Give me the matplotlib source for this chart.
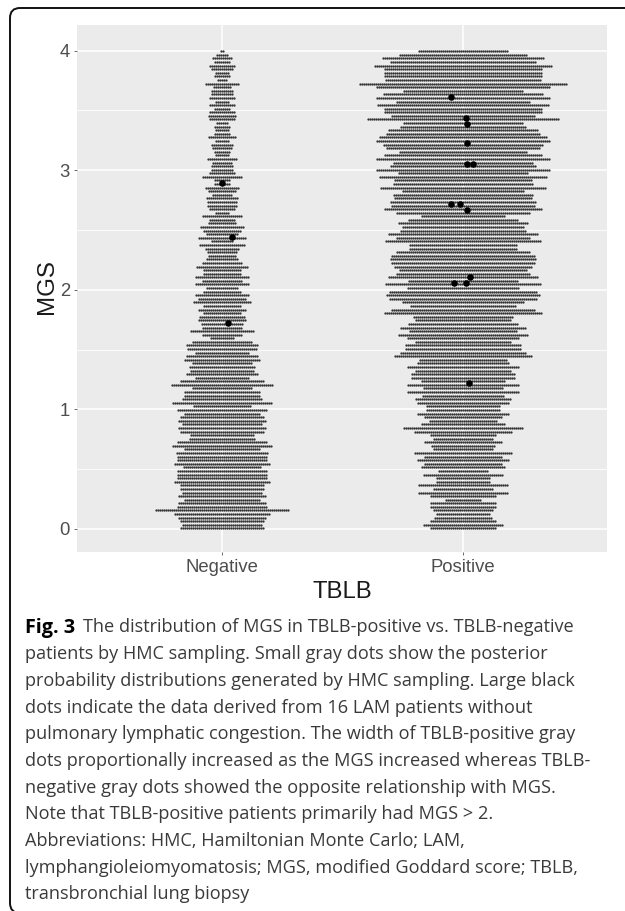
import numpy as np
import matplotlib
matplotlib.use("Agg")
import matplotlib.pyplot as plt
from matplotlib.patches import FancyBboxPatch

W, H = 625, 911
categories = ["Negative", "Positive"]
top_bin = 3.995
bin_width = 0.03

# dots per MGS bin, top bin first
neg_counts = [2,6,10,8,13,11,7,8,5,17,9,11,11,13,7,13,8,13,14,13,6,8,7,8,14,7,11,10,8,7,15,10,11,11,13,20,8,8,17,14,
              10,16,15,15,13,7,20,13,14,22,19,16,24,11,23,17,15,14,16,20,26,19,19,27,20,27,16,19,27,24,29,19,24,19,23,24,
              21,20,32,20,12,30,36,35,27,36,38,30,33,32,36,27,42,51,30,38,38,40,50,29,45,38,42,44,40,44,42,32,33,45,50,38,
              46,45,45,48,39,45,45,45,48,42,42,40,44,38,44,45,67,48,44,42,40,42]
pos_counts = [45,64,81,73,89,79,79,79,78,104,87,60,80,87,67,86,79,79,72,96,60,63,75,77,84,87,80,77,64,79,87,70,73,87,65,
              84,69,70,83,61,70,69,73,72,79,67,42,55,65,61,63,75,67,78,54,54,67,72,73,72,69,64,67,75,55,78,56,74,77,74,61,53,72,79,
              50,48,55,63,54,65,56,48,58,58,63,69,44,46,56,48,52,52,42,56,40,56,41,48,46,37,37,46,39,34,42,60,49,33,30,39,32,30,49,39,
              46,39,42,25,40,27,27,45,30,45,33,18,33,33,30,27,29,33,40,33]

# patients without pulmonary lymphatic congestion
lam_x = [1.001, 1.044, 1.028, 1.953, 2.012, 2.019, 2.019, 2.019, 2.043, 1.953, 1.990, 2.019, 2.030, 1.964, 2.015, 2.028]
lam_y = [2.89, 2.446, 1.72, 3.61, 3.44, 3.39, 3.23, 3.05, 3.05, 2.72, 2.72, 2.67, 2.11, 2.06, 2.06, 1.22]

caption = [
    "The distribution of MGS in TBLB-positive vs. TBLB-negative",
    "patients by HMC sampling. Small gray dots show the posterior",
    "probability distributions generated by HMC sampling. Large black",
    "dots indicate the data derived from 16 LAM patients without",
    "pulmonary lymphatic congestion. The width of TBLB-positive gray",
    "dots proportionally increased as the MGS increased whereas TBLB-",
    "negative gray dots showed the opposite relationship with MGS.",
    "Note that TBLB-positive patients primarily had MGS > 2.",
    "Abbreviations: HMC, Hamiltonian Monte Carlo; LAM,",
    "lymphangioleiomyomatosis; MGS, modified Goddard score; TBLB,",
    "transbronchial lung biopsy",
]

fig = plt.figure(figsize=(W / 100, H / 100), dpi=100, facecolor="white")
ax = fig.add_axes([77 / W, 1 - 551.7 / H, 530.3 / W, 526.7 / H])
ax.set_facecolor("#EBEBEB")
ax.set_xlim(0.4, 2.6)
ax.set_ylim(-0.19, 4.215)
for s in ax.spines.values():
    s.set_visible(False)

sans = ["Liberation Sans", "DejaVu Sans"]
ax.set_yticks([0, 1, 2, 3, 4])
ax.set_yticks([0.5, 1.5, 2.5, 3.5], minor=True)
ax.set_xticks([1, 2])
ax.set_xticklabels(categories)
ax.grid(True, which="major", color="white", linewidth=1.1)
ax.grid(True, which="minor", axis="y", color="white", linewidth=0.6)
ax.set_axisbelow(True)
ax.tick_params(which="major", length=2.5, width=0.6, color="#555555", labelcolor="#4D4D4D",
               labelsize=13.3, pad=2.5)
ax.tick_params(which="minor", length=0)
for t in ax.get_xticklabels() + ax.get_yticklabels():
    t.set_family(sans)
ax.set_xlabel("TBLB", family=sans, fontsize=17.2, color="#1a1a1a", labelpad=3.5)
ax.set_ylabel("MGS", family=sans, fontsize=17.4, color="#1a1a1a", labelpad=1)
ax.yaxis.label.set_position((0, 0.503))

dx = 2.0 / (530.3 / 2.2)
for cat, counts in zip([1, 2], [neg_counts, pos_counts]):
    xs, ys = [], []
    for i, n in enumerate(counts):
        xs.extend(cat + (np.arange(n) - (n - 1) / 2) * dx)
        ys.extend([top_bin - i * bin_width] * n)
    ax.scatter(xs, ys, s=2.7, color="#333333", linewidths=0, zorder=3)
ax.scatter(lam_x, lam_y, s=22, color="black", linewidths=0, zorder=4)

# caption
cap_fs = 13.1
cap_col = "#3a3a3a"
x0, y0, lh = 25, 632.5, 26.67
lead = fig.text(x0 / W, 1 - y0 / H, "Fig. 3", family="Open Sans", weight="bold", fontsize=14.2,
                color="black", va="baseline")
fig.canvas.draw()
ext = lead.get_window_extent()
fig.text((ext.x1 + 8) / W, 1 - y0 / H, caption[0], family="Open Sans", fontsize=cap_fs,
         color=cap_col, va="baseline")
for k, line in enumerate(caption[1:], start=1):
    fig.text(x0 / W, 1 - (y0 + k * lh) / H, line, family="Open Sans", fontsize=cap_fs,
             color=cap_col, va="baseline")

# rounded frame, open past the right and bottom edges
box = FancyBboxPatch((10 / W, 1 - 913 / H), 700 / W, 905 / H,
                     boxstyle="round,pad=0,rounding_size=0.016", mutation_aspect=W / H,
                     transform=fig.transFigure, fill=False, edgecolor="#111111", linewidth=1.4, clip_on=True)
fig.add_artist(box)

fig.savefig("out.png", dpi=100)
